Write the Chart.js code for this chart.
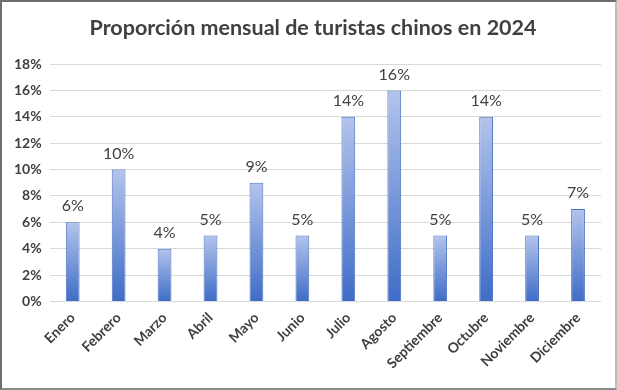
<!DOCTYPE html>
<html>
<head>
<meta charset="utf-8">
<script src="https://cdn.jsdelivr.net/npm/chart.js@4.4.1/dist/chart.umd.min.js"></script>
<style>
  html, body { margin: 0; padding: 0; background: #fff; }
  #wrap { width: 617px; height: 390px; box-sizing: border-box; border: 2px solid #6e6e6e; border-right-color:#bdbdbd; border-bottom-color:#8a8a8a; background:#fff; }
</style>
</head>
<body>
<div id="wrap"><canvas id="c" width="613" height="386"></canvas></div>
<script>
const categories = ["Enero","Febrero","Marzo","Abril","Mayo","Junio","Julio","Agosto","Septiembre","Octubre","Noviembre","Diciembre"];
const shares = [6, 10, 4, 5, 9, 5, 14, 16, 5, 14, 5, 7];
const yTicks = [0, 2, 4, 6, 8, 10, 12, 14, 16, 18];
const chartTitle = "Proporción mensual de turistas chinos en 2024";

const FONT = "Lato, 'Open Sans', sans-serif";

const valueLabels = {
  id: 'valueLabels',
  afterDatasetsDraw(chart) {
    const ctx = chart.ctx;
    const meta = chart.getDatasetMeta(0);
    ctx.save();
    ctx.font = "16px " + FONT;
    ctx.fillStyle = "#404040";
    ctx.textAlign = "center";
    ctx.textBaseline = "bottom";
    meta.data.forEach((bar, i) => {
      ctx.fillText(shares[i] + "%", bar.x, bar.y - 8);
    });
    ctx.restore();
  }
};

const titlePlugin = {
  id: 'centeredTitle',
  afterDraw(chart) {
    const ctx = chart.ctx;
    ctx.save();
    ctx.font = "bold 21.5px " + FONT;
    ctx.fillStyle = "#404040";
    ctx.textAlign = "center";
    ctx.textBaseline = "middle";
    ctx.fillText(chartTitle, chart.width / 2 + 4.5, 26);
    ctx.restore();
  }
};

function barGradient(context) {
  const chart = context.chart;
  const y = chart.scales && chart.scales.y;
  if (!y || !chart.chartArea) return "#4472c4";
  const top = y.getPixelForValue(context.raw);
  const bottom = y.getPixelForValue(0);
  if (!isFinite(top) || !isFinite(bottom) || top === bottom) return "#4472c4";
  const g = chart.ctx.createLinearGradient(0, top, 0, bottom);
  g.addColorStop(0, "#b3c4ec");
  g.addColorStop(1, "#3f6cc7");
  return g;
}

new Chart(document.getElementById("c"), {
  type: "bar",
  data: {
    labels: categories,
    datasets: [{
      data: shares,
      backgroundColor: barGradient,
      borderColor: "#4a72c2",
      borderWidth: 1,
      barPercentage: 0.6,
      categoryPercentage: 0.5
    }]
  },
  plugins: [valueLabels, titlePlugin],
  options: {
    responsive: false,
    animation: false,
    layout: { padding: { left: 4, right: 14, top: 62, bottom: 8 } },
    plugins: {
      legend: { display: false },
      tooltip: { enabled: false },
      title: { display: false }
    },
    scales: {
      x: {
        grid: { display: false, drawTicks: false },
        border: { display: false },
        ticks: {
          color: "#404040",
          font: { family: FONT, size: 14, weight: "bold" },
          maxRotation: 45, minRotation: 45,
          padding: 8,
          autoSkip: false
        }
      },
      y: {
        min: 0, max: 18,
        afterBuildTicks(axis) { axis.ticks = yTicks.map(v => ({ value: v })); },
        grid: { color: "#d9d9d9", drawTicks: false, lineWidth: 1 },
        border: { display: false },
        ticks: {
          color: "#404040",
          font: { family: FONT, size: 14, weight: "bold" },
          padding: 8,
          callback: v => v + "%"
        }
      }
    }
  }
});
</script>
</body>
</html>
